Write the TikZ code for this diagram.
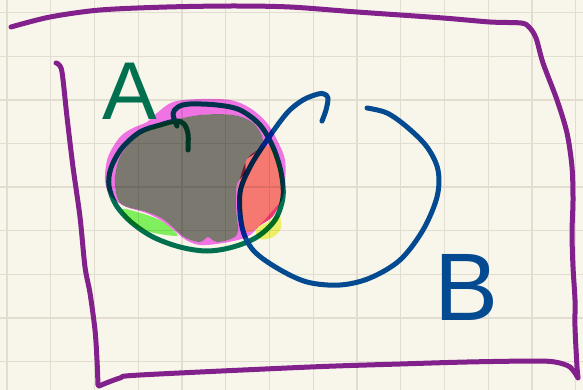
\documentclass[tikz,border=0pt]{standalone}
\usepackage{fontspec}
\newfontfamily\handfont{Liberation Sans}
\definecolor{paper}{HTML}{F8F6EA}
\definecolor{gridc}{HTML}{E1DED1}
\definecolor{purp}{HTML}{82208C}
\definecolor{pgreen}{HTML}{00704F}
\definecolor{pblue}{HTML}{034A91}
\definecolor{hmag}{HTML}{F778F8}
\definecolor{hgray}{HTML}{7F7D79}
\definecolor{hred}{HTML}{FC7E7C}
\definecolor{hyel}{HTML}{F4F872}
\definecolor{hgrn}{HTML}{84F866}
\tikzset{
  pen/.style={line width=5pt, line cap=round, line join=round},
  hl/.style={blend mode=multiply},
  gridline/.style={gridc, line width=1.4pt},
  letter/.style={inner sep=0pt, outer sep=0pt}
}
\begin{document}
\begin{tikzpicture}[x=1pt,y=-1pt]
\fill[paper] (0,0) rectangle (583,390);
\useasboundingbox (0,0) rectangle (583,390);
% grid
\foreach \i in {0,...,13} \draw[gridline] ({7+43.75*\i},0) -- ({7+43.75*\i},390);
\foreach \j in {0,...,8} \draw[gridline] (0,{12.7+43.6*\j}) -- (583,{12.7+43.6*\j});
% purple frame
\draw[pen, purp] plot[smooth, tension=0.5] coordinates {(11,27) (50,17) (100,10) (167,7) (233,6) (290,7) (357,12) (443,18) (490,22) (521,23) (529,27) (536,38) (543,63) (557,100) (567,133) (572,167) (573,200) (572,233) (573,267) (575,300) (575,327) (577,367) (578,377)};
\draw[pen, purp] plot[smooth, tension=0.5] coordinates {(578,378) (570,367) (555,362) (533,361) (467,362) (400,364) (310,367) (140,375) (120,378) (99,386)};
\draw[pen, purp] plot[smooth, tension=0.5] coordinates {(98,385) (97,360) (95,330) (90,293) (85,267) (80,217) (73,167) (67,117) (62,72) (58,64) (56,63)};
% set A outline
\draw[pen, pgreen] plot[smooth, tension=0.55] coordinates {(188,150) (188,134) (184,124) (176,121) (160,125) (140,132) (122,148) (111,168) (109,186) (116,205) (131,222) (153,237) (180,247) (207,251) (233,247) (257,237) (275,220) (283,197) (281,172) (273,147) (260,125) (240,110) (217,105) (190,104) (178,107) (173,114) (177,126)};
% set B outline
\draw[pen, pblue] plot[smooth, tension=0.55] coordinates {(322,121) (326,110) (328,98) (324,94) (318,94) (303,100) (287,113) (267,140) (250,167) (240,193) (242,227) (253,250) (277,268) (307,282) (340,285) (370,278) (400,260) (423,230) (437,197) (438,170) (427,147) (407,127) (387,113) (367,108)};
% highlights
\fill[hl, hmag, even odd rule]
  plot[smooth cycle, tension=0.55] coordinates {(157,113) (173,102) (200,99) (230,100) (250,108) (267,123) (278,142) (285,160) (285,183) (282,200) (275,208) (260,225) (247,237) (223,243) (200,245) (186,240) (176,232) (162,221) (146,213) (124,206) (110,195) (105,180) (108,157) (120,137) (133,128) (147,122)}
  plot[smooth cycle, tension=0.55] coordinates {(167,122) (200,115) (233,115) (253,123) (263,140) (255,153) (246,160) (245,173) (237,184) (236,207) (238,230) (233,238) (217,242) (208,237) (200,242) (186,238) (176,230) (163,219) (147,212) (125,206) (117,197) (115,177) (120,157) (133,140) (150,128)}
  plot[smooth cycle, tension=0.55] coordinates {(248,158) (258,150) (270,146) (280,165) (282,185) (281,200) (273,216) (262,224) (247,232) (240,210) (238,190) (242,172)};
\fill[hl, hgray] plot[smooth cycle, tension=0.55] coordinates {(167,122) (200,115) (233,115) (253,123) (263,140) (255,153) (246,160) (245,173) (237,184) (236,207) (238,230) (233,238) (217,242) (208,237) (200,242) (186,238) (176,230) (163,219) (147,212) (125,206) (117,197) (115,177) (120,157) (133,140) (150,128)};
\fill[hl, hred] plot[smooth cycle, tension=0.55] coordinates {(248,158) (258,150) (270,146) (280,165) (282,185) (281,200) (273,216) (262,224) (247,232) (240,210) (238,190) (242,172)};
\fill[hl, hyel] plot[smooth cycle, tension=0.55] coordinates {(256,229) (268,222) (279,215) (281,228) (273,237) (260,239)};
\fill[hl, hgrn] plot[smooth cycle, tension=0.55] coordinates {(122,209) (147,215) (163,222) (175,232) (176,236) (150,232) (130,223)};
% letters
\node[letter, text=pgreen, font=\handfont\fontsize{82}{90}\selectfont] (labelA) at (130,91) {A};
\node[letter, text=pblue, font=\handfont\fontsize{96}{100}\selectfont] (labelB) at (467,287) {B};
\end{tikzpicture}
\end{document}
